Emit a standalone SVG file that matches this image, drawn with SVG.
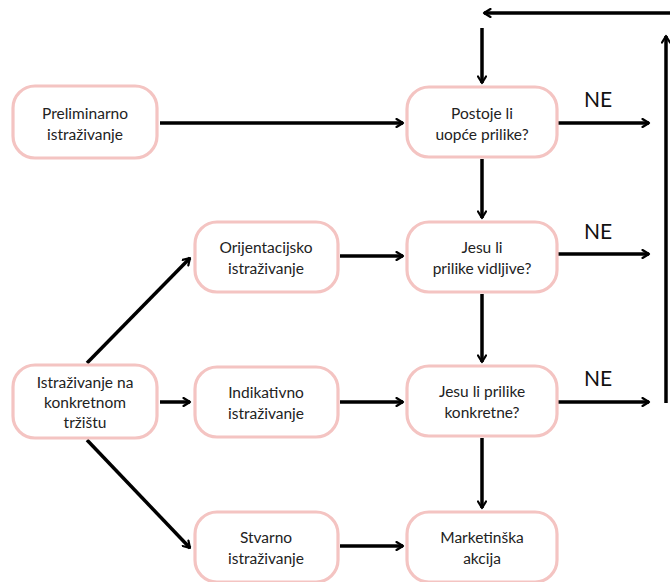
<svg xmlns="http://www.w3.org/2000/svg" width="670" height="582" viewBox="0 0 670 582">
<defs>
<marker id="ah" viewBox="0 0 10 10" refX="8" refY="5" markerWidth="10" markerHeight="10" markerUnits="userSpaceOnUse" orient="auto">
<polyline points="1.5,1 8,5 1.5,9" fill="none" stroke="#000" stroke-width="2.2" stroke-linecap="round" stroke-linejoin="round"/>
</marker>
<style>
.box{fill:#fff;stroke:#f4c4c2;stroke-width:3.2}
.t{font-family:Lato,"Open Sans",sans-serif;font-size:15.5px;fill:#222;text-anchor:middle}
.ne{font-family:Lato,"Open Sans",sans-serif;font-size:21px;fill:#111;text-anchor:middle}
.c{stroke:#000;stroke-width:3.5;fill:none;marker-end:url(#ah)}
</style>
</defs>
<rect width="670" height="582" fill="#fff"/>
<g id="connectors">
<line class="c" x1="160" y1="123" x2="403" y2="123"/>
<line class="c" x1="558" y1="123" x2="649" y2="123"/>
<line class="c" x1="558" y1="254" x2="649" y2="254"/>
<line class="c" x1="558" y1="402" x2="649" y2="402"/>
<line class="c" x1="666" y1="403" x2="666" y2="36"/>
<line class="c" x1="670" y1="13" x2="484" y2="13"/>
<line class="c" x1="482" y1="28" x2="482" y2="83"/>
<line class="c" x1="482" y1="159" x2="482" y2="218"/>
<line class="c" x1="482" y1="294" x2="482" y2="362"/>
<line class="c" x1="482" y1="438" x2="482" y2="508"/>
<line class="c" x1="340" y1="256" x2="403" y2="256"/>
<line class="c" x1="340" y1="402" x2="403" y2="402"/>
<line class="c" x1="340" y1="546" x2="403" y2="546"/>
<line class="c" x1="160" y1="402" x2="190" y2="402"/>
<line class="c" x1="87" y1="363" x2="190" y2="258"/>
<line class="c" x1="87" y1="440" x2="190" y2="548"/>
<text class="ne" x="598" y="107">NE</text>
<text class="ne" x="598" y="239">NE</text>
<text class="ne" x="598" y="386">NE</text>
</g>
<g id="preliminarno"><rect class="box" x="13" y="86" width="144" height="72" rx="22"/><text class="t" x="85" y="119">Preliminarno</text><text class="t" x="85" y="140">istraživanje</text></g>
<g id="postoje"><rect class="box" x="407" y="87" width="150" height="70" rx="22"/><text class="t" x="482" y="119">Postoje li</text><text class="t" x="482" y="140">uopće prilike?</text></g>
<g id="orijentacijsko"><rect class="box" x="195" y="222" width="143" height="70" rx="22"/><text class="t" x="266" y="253">Orijentacijsko</text><text class="t" x="266" y="274">istraživanje</text></g>
<g id="vidljive"><rect class="box" x="407" y="222" width="150" height="70" rx="22"/><text class="t" x="482" y="253">Jesu li</text><text class="t" x="482" y="274">prilike vidljive?</text></g>
<g id="konkretnom"><rect class="box" x="13" y="365" width="144" height="73" rx="22"/><text class="t" x="85" y="388">Istraživanje na</text><text class="t" x="85" y="408">konkretnom</text><text class="t" x="85" y="428">tržištu</text></g>
<g id="indikativno"><rect class="box" x="195" y="367" width="143" height="70" rx="22"/><text class="t" x="266" y="398">Indikativno</text><text class="t" x="266" y="419">istraživanje</text></g>
<g id="konkretne"><rect class="box" x="407" y="366" width="150" height="70" rx="22"/><text class="t" x="482" y="397">Jesu li prilike</text><text class="t" x="482" y="418">konkretne?</text></g>
<g id="stvarno"><rect class="box" x="195" y="512" width="143" height="70" rx="22"/><text class="t" x="266" y="543">Stvarno</text><text class="t" x="266" y="564">istraživanje</text></g>
<g id="marketinska"><rect class="box" x="407" y="512" width="150" height="70" rx="22"/><text class="t" x="482" y="543">Marketinška</text><text class="t" x="482" y="564">akcija</text></g>
</svg>
